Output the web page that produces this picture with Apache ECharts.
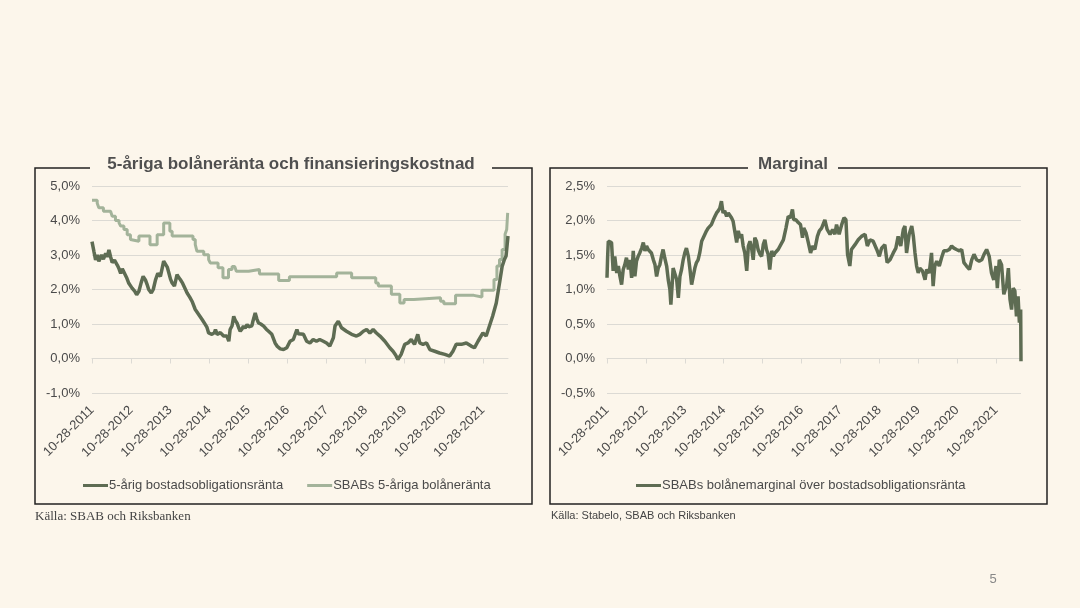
<!DOCTYPE html>
<html>
<head>
<meta charset="utf-8">
<script src="https://cdn.jsdelivr.net/npm/echarts@6/dist/echarts.min.js"></script>
<style>
html,body{margin:0;padding:0;background:#FCF6EB;}
#c{width:1080px;height:608px;}
</style>
</head>
<body>
<div id="c"></div>
<script>
// x values: months since 10-28-2011
const tickLabels = ['10-28-2011','10-28-2012','10-28-2013','10-28-2014','10-28-2015','10-28-2016','10-28-2017','10-28-2018','10-28-2019','10-28-2020','10-28-2021'];
const tickMonths = [0,12,24,36,48,60,72,84,96,108,120];
const lastMonth = 127.7;

const leftTitle = '5-åriga bolåneränta och finansieringskostnad';
const rightTitle = 'Marginal';
const seriesNames = ['5-årig bostadsobligationsränta', 'SBABs 5-åriga bolåneränta', 'SBABs bolånemarginal över bostadsobligationsränta'];
const sourceLeft = 'Källa: SBAB och Riksbanken';
const sourceRight = 'Källa: Stabelo, SBAB och Riksbanken';
const pageNumber = '5';

const bondRate = [[0,3.39],[0.6,3.1],[1.1,2.86],[1.6,3.0],[2.1,2.82],[2.9,3.0],[3.5,2.88],[4.2,3.05],[4.7,2.95],[5.2,3.15],[5.7,2.95],[6.2,2.78],[6.9,2.85],[7.8,2.7],[8.3,2.6],[8.8,2.47],[9.3,2.6],[9.8,2.57],[10.6,2.35],[11.3,2.18],[12.3,2.04],[13.1,1.95],[13.7,1.85],[14.4,1.95],[15.1,2.2],[15.7,2.38],[16.4,2.28],[16.9,2.15],[17.4,2.0],[18.2,1.9],[18.8,2.0],[19.5,2.28],[20.2,2.47],[21.0,2.38],[21.5,2.6],[22.0,2.82],[22.6,2.87],[23.1,2.65],[23.6,2.48],[24.1,2.3],[24.6,2.19],[25.3,2.1],[26.1,2.43],[26.6,2.35],[27.1,2.29],[27.7,2.2],[28.2,2.1],[29.2,1.9],[30.0,1.78],[30.7,1.66],[31.7,1.42],[32.8,1.27],[33.8,1.13],[34.8,0.98],[35.3,0.9],[35.8,0.74],[36.8,0.7],[37.6,0.75],[37.9,0.84],[38.4,0.7],[38.9,0.65],[39.4,0.75],[39.9,0.79],[40.4,0.65],[40.9,0.6],[41.4,0.65],[42.0,0.5],[42.4,0.84],[43.0,0.95],[43.5,1.22],[44.0,1.1],[44.5,1.03],[45.0,0.9],[45.5,0.79],[46.0,0.85],[46.5,0.94],[47.0,0.88],[47.6,0.98],[48.1,0.92],[48.6,0.89],[49.1,0.95],[49.4,1.08],[50.1,1.32],[50.6,1.15],[51.1,1.03],[51.8,1.0],[52.7,0.94],[53.5,0.85],[54.2,0.79],[54.7,0.75],[55.2,0.7],[56.2,0.45],[56.9,0.35],[57.8,0.28],[58.8,0.26],[59.8,0.31],[60.8,0.5],[61.8,0.55],[62.9,0.84],[63.3,0.72],[63.8,0.74],[64.9,0.7],[65.9,0.5],[66.9,0.45],[67.9,0.55],[68.9,0.5],[69.9,0.55],[71.0,0.5],[72.0,0.45],[73.0,0.36],[74.1,0.6],[74.6,0.94],[75.6,1.08],[76.6,0.89],[78.1,0.79],[79.7,0.7],[81.2,0.65],[82.2,0.7],[83.3,0.79],[84.3,0.84],[85.3,0.74],[86.3,0.84],[87.3,0.74],[88.4,0.65],[89.9,0.5],[91.4,0.31],[92.4,0.21],[93.2,0.1],[93.9,-0.03],[94.9,0.12],[96.0,0.41],[97.0,0.45],[98.0,0.55],[99.0,0.41],[100.0,0.7],[100.6,0.45],[101.6,0.41],[102.7,0.45],[103.7,0.26],[105.2,0.21],[106.7,0.16],[108.3,0.12],[109.8,0.07],[110.8,0.21],[111.8,0.41],[113.4,0.41],[114.9,0.45],[116.4,0.36],[117.4,0.31],[118.5,0.5],[120.0,0.74],[121.0,0.65],[122.0,0.94],[123.0,1.23],[124.1,1.61],[125.1,2.19],[125.9,2.67],[126.6,2.87],[127.1,2.97],[127.7,3.55]];

const sbabRate = [[0,4.59],[1.6,4.5],[2.1,4.37],[3.5,4.27],[5.7,4.22],[6.2,4.12],[7.2,4.0],[8.3,3.93],[8.8,3.84],[9.8,3.74],[10.8,3.59],[11.8,3.45],[12.3,3.4],[14.4,3.55],[17.8,3.3],[20.0,3.59],[22.0,3.93],[23.9,3.69],[24.6,3.55],[31.0,3.45],[31.7,3.3],[32.2,3.11],[34.3,3.01],[35.8,2.87],[36.3,2.77],[38.7,2.63],[40.2,2.34],[41.9,2.58],[43.0,2.67],[43.8,2.72],[44.3,2.53],[48.1,2.58],[51.4,2.45],[57.3,2.26],[60.6,2.37],[75.1,2.48],[79.7,2.34],[87.1,2.19],[87.9,2.1],[91.9,1.86],[94.5,1.61],[95.8,1.71],[98.8,1.76],[107.0,1.66],[108.0,1.59],[111.6,1.83],[117.2,1.78],[119.7,1.98],[123.4,2.29],[124.3,2.68],[125.1,2.87],[125.9,3.16],[126.8,3.6],[127.3,3.74],[127.6,4.22],[127.7,4.22]];

const marginRate = [[0,1.17],[0.2,1.48],[0.4,1.70],[0.9,1.72],[1.4,1.68],[1.9,1.27],[2.4,1.48],[3.0,1.24],[3.5,1.34],[4.0,1.19],[4.5,1.07],[5.0,1.29],[5.5,1.36],[6.0,1.46],[6.6,1.29],[7.1,1.43],[7.6,1.17],[8.1,1.56],[8.6,1.19],[9.1,1.41],[9.6,1.48],[10.1,1.53],[10.7,1.60],[11.2,1.68],[11.7,1.56],[12.2,1.63],[12.7,1.58],[13.2,1.58],[13.7,1.53],[14.3,1.43],[14.8,1.36],[15.3,1.19],[15.8,1.31],[16.3,1.36],[16.8,1.48],[17.3,1.58],[17.8,1.46],[18.4,1.34],[18.9,1.14],[19.4,1.0],[19.7,0.78],[20.1,1.07],[20.4,1.31],[20.9,1.29],[21.5,1.14],[22.0,0.88],[22.5,1.19],[23.0,1.29],[23.5,1.43],[24.0,1.53],[24.5,1.60],[25.1,1.48],[25.6,1.29],[26.1,1.07],[26.6,1.19],[27.1,1.31],[27.6,1.39],[28.1,1.43],[28.6,1.53],[29.2,1.70],[29.7,1.75],[30.2,1.80],[30.7,1.85],[31.2,1.89],[31.7,1.87],[32.2,1.94],[32.8,2.01],[33.3,2.06],[33.8,2.11],[34.3,2.14],[34.8,2.18],[35.3,2.28],[35.8,2.11],[36.3,2.14],[36.9,2.06],[37.4,2.11],[37.9,2.09],[38.4,2.04],[38.9,1.99],[39.5,1.82],[40.0,1.68],[40.5,1.85],[41.0,1.75],[41.5,1.80],[42.0,1.63],[42.5,1.53],[43.1,1.27],[43.6,1.63],[44.1,1.70],[44.6,1.60],[45.1,1.43],[45.6,1.75],[46.1,1.70],[46.6,1.58],[47.2,1.51],[47.7,1.48],[48.2,1.65],[48.7,1.72],[49.2,1.58],[49.7,1.51],[50.2,1.29],[50.8,1.56],[51.3,1.48],[51.8,1.53],[52.8,1.58],[53.3,1.60],[54.4,1.72],[55.2,1.89],[55.9,2.06],[56.6,2.04],[57.2,2.16],[57.6,2.01],[58.3,2.01],[59.0,1.97],[59.7,1.94],[60.3,1.75],[60.7,1.89],[61.4,1.82],[62.1,1.68],[62.8,1.53],[63.4,1.63],[64.1,1.58],[64.9,1.77],[65.5,1.85],[66.2,1.89],[67.2,2.01],[67.9,1.87],[68.8,1.80],[69.6,1.87],[70.3,1.80],[70.8,1.94],[71.6,1.80],[72.4,1.94],[73.1,2.04],[73.7,2.01],[74.2,1.51],[74.9,1.34],[75.4,1.58],[76.5,1.65],[77.5,1.72],[78.5,1.77],[79.6,1.80],[80.3,1.63],[81.1,1.72],[82.1,1.70],[83.2,1.58],[84.0,1.48],[84.7,1.60],[85.7,1.65],[86.4,1.39],[87.3,1.43],[88.3,1.53],[89.1,1.60],[89.8,1.77],[90.6,1.63],[91.4,1.87],[91.9,1.92],[92.4,1.53],[93.2,1.80],[94.0,1.92],[94.5,1.77],[95.0,1.53],[95.5,1.34],[96.0,1.24],[96.5,1.31],[97.3,1.27],[98.1,1.14],[98.6,1.29],[99.4,1.24],[100.1,1.53],[100.6,1.05],[101.1,1.34],[101.7,1.41],[102.5,1.34],[103.2,1.46],[103.9,1.56],[104.7,1.56],[105.6,1.58],[106.3,1.63],[107.0,1.60],[107.8,1.58],[108.7,1.56],[109.4,1.58],[110.1,1.39],[110.9,1.34],[111.8,1.29],[112.5,1.43],[113.2,1.51],[114.0,1.43],[114.8,1.41],[115.6,1.43],[116.3,1.51],[117.1,1.58],[117.9,1.48],[118.6,1.24],[119.3,1.14],[120.0,1.34],[120.4,1.02],[121.0,1.43],[121.7,1.36],[122.4,0.93],[123.3,1.07],[123.8,1.31],[124.3,0.86],[124.8,0.71],[125.3,1.02],[125.8,0.98],[126.3,0.61],[126.8,0.9],[127.2,0.52],[127.6,0.71],[127.7,-0.04]];

const DARK = '#5E6C53';
const LIGHT = '#A3B39A';
const GRID = '#DCDAD4';
const TXT = '#4A4A4A';
const FONT = '"Liberation Sans", Arial, sans-serif';

function pct(v){ return v.toFixed(1).replace('.', ',') + '%'; }

function xAxisCfg(gi){
  return {
    type: 'value', gridIndex: gi, min: 0, max: lastMonth,
    axisLine: { show: true, onZero: true, lineStyle: { color: GRID, width: 1 } },
    axisTick: { show: true, length: 5, lineStyle: { color: GRID }, customValues: tickMonths },
    splitLine: { show: false },
    axisLabel: {
      customValues: tickMonths, rotate: 45, margin: 15, color: TXT, fontSize: 13, fontFamily: FONT,
      formatter: function(v){ const i = tickMonths.indexOf(v); return i >= 0 ? tickLabels[i] : ''; }
    }
  };
}
function yAxisCfg(gi, min, max, step){
  return {
    type: 'value', gridIndex: gi, min: min, max: max, interval: step,
    axisLine: { show: false }, axisTick: { show: false },
    splitLine: { lineStyle: { color: GRID, width: 1 } },
    axisLabel: { margin: 12, color: TXT, fontSize: 13, fontFamily: FONT, formatter: function(v){ return pct(v); } }
  };
}

const chart = echarts.init(document.getElementById('c'));
chart.setOption({
  backgroundColor: '#FCF6EB',
  animation: false,
  grid: [
    { left: 92, right: 572, top: 186, bottom: 215 },
    { left: 607, right: 59, top: 186, bottom: 215 }
  ],
  xAxis: [xAxisCfg(0), xAxisCfg(1)],
  yAxis: [yAxisCfg(0, -1, 5, 1), yAxisCfg(1, -0.5, 2.5, 0.5)],
  legend: [
    { data: [seriesNames[0], seriesNames[1]], left: 78, top: 474, icon: 'rect', itemWidth: 25, itemHeight: 3, itemGap: 24,
      textStyle: { color: TXT, fontSize: 13, fontFamily: FONT, padding: [0,0,0,-4] } },
    { data: [seriesNames[2]], left: 631, top: 474, icon: 'rect', itemWidth: 25, itemHeight: 3,
      textStyle: { color: TXT, fontSize: 13, fontFamily: FONT, padding: [0,0,0,-4] } }
  ],
  series: [
    { name: seriesNames[1], type: 'line', xAxisIndex: 0, yAxisIndex: 0, data: sbabRate, step: 'end', showSymbol: false, symbol: 'none',
      color: LIGHT, lineStyle: { color: LIGHT, width: 3 } },
    { name: seriesNames[0], type: 'line', xAxisIndex: 0, yAxisIndex: 0, data: bondRate, showSymbol: false, symbol: 'none',
      color: DARK, lineStyle: { color: DARK, width: 3.5 } },
    { name: seriesNames[2], type: 'line', xAxisIndex: 1, yAxisIndex: 1, data: marginRate, showSymbol: false, symbol: 'none',
      color: DARK, lineStyle: { color: DARK, width: 3.5 } }
  ],
  graphic: [
    { type: 'polyline', shape: { points: [[90,168],[35,168],[35,504],[532,504],[532,168],[492,168]] }, style: { stroke: '#222', lineWidth: 1.5, fill: null } },
    { type: 'polyline', shape: { points: [[748,168],[550,168],[550,504],[1047,504],[1047,168],[838,168]] }, style: { stroke: '#222', lineWidth: 1.5, fill: null } },
    { type: 'text', x: 291, y: 164, style: { text: leftTitle, font: 'bold 17px "Liberation Sans", Arial, sans-serif', fill: '#4F4F4F', textAlign: 'center', textVerticalAlign: 'middle' } },
    { type: 'text', x: 793, y: 164, style: { text: rightTitle, font: 'bold 17px "Liberation Sans", Arial, sans-serif', fill: '#4F4F4F', textAlign: 'center', textVerticalAlign: 'middle' } },
    { type: 'text', x: 35, y: 517, style: { text: sourceLeft, font: '13px "Liberation Serif", "DejaVu Serif", serif', fill: '#444', textAlign: 'left', textVerticalAlign: 'middle' } },
    { type: 'text', x: 551, y: 516, style: { text: sourceRight, font: '11px "Liberation Sans", Arial, sans-serif', fill: '#444', textAlign: 'left', textVerticalAlign: 'middle' } },
    { type: 'text', x: 993, y: 579, style: { text: pageNumber, font: '13px "Liberation Sans", Arial, sans-serif', fill: '#888', textAlign: 'center', textVerticalAlign: 'middle' } }
  ]
});
</script>
</body>
</html>
